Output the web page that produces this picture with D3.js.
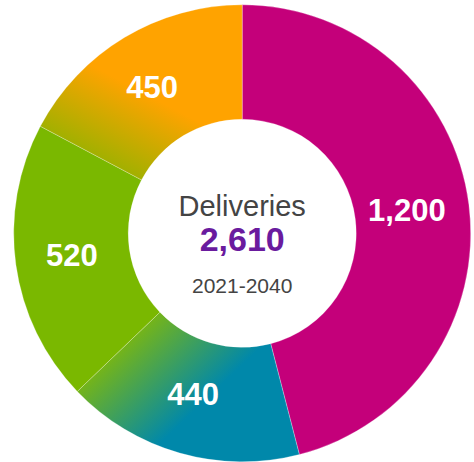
<!DOCTYPE html>
<html>
<head>
<meta charset="utf-8">
<script src="https://cdn.jsdelivr.net/npm/d3@7"></script>
<style>
  body { margin: 0; background: #fff; }
  svg { display: block; font-family: "Liberation Sans", Arial, sans-serif; }
</style>
</head>
<body>
<div id="chart"></div>
<script>
const width = 474;
const height = 462;
const cx = 242.2, cy = 233.3;
const outerR = 228.5, innerR = 114;

const values = [1200, 440, 520, 450];
const colors = ['#c4007a', '#0088aa', '#7ab800', '#ffa300'];
// colour that bleeds in from the neighbouring slice (null = flat fill)
const blendFrom = [null, '#74b41a', null, '#a2b000'];
const blendSide = [0, 1, 0, -1]; // 1 = from end edge, -1 = from start edge
const title = 'Deliveries';
const period = '2021-2040';

const svg = d3.select('#chart')
  .append('svg')
    .attr('width', width)
    .attr('height', height);

const defs = svg.append('defs');
const g = svg.append('g')
    .attr('transform', `translate(${cx},${cy})`);

const pie = d3.pie().sort(null).value(d => d);
const arc = d3.arc().innerRadius(innerR).outerRadius(outerR);
const labelArc = d3.arc().innerRadius(169).outerRadius(169);
const fmt = d3.format(',');

const arcs = pie(values);

arcs.forEach((d, i) => {
  let fill = colors[i];
  if (blendFrom[i]) {
    // gradient perpendicular to the shared edge, starting at the edge
    const a = blendSide[i] > 0 ? d.endAngle : d.startAngle;
    const s = blendSide[i] > 0 ? -1 : 1;
    const len = blendSide[i] > 0 ? 95 : 78;
    const nx = s * Math.cos(a), ny = s * Math.sin(a);
    const grad = defs.append('linearGradient')
        .attr('id', 'grad' + i)
        .attr('gradientUnits', 'userSpaceOnUse')
        .attr('x1', 0).attr('y1', 0)
        .attr('x2', nx * len).attr('y2', ny * len);
    grad.append('stop').attr('offset', '0%').attr('stop-color', blendFrom[i]);
    grad.append('stop').attr('offset', '100%').attr('stop-color', colors[i]);
    fill = `url(#grad${i})`;
  }
  g.append('path')
      .attr('d', arc(d))
      .attr('fill', fill)
      .attr('stroke', 'rgba(255,255,255,0.45)')
      .attr('stroke-width', 0.6);
});

g.selectAll('.label')
  .data(arcs)
  .join('text')
    .attr('class', 'label')
    .attr('transform', d => `translate(${labelArc.centroid(d)})`)
    .attr('text-anchor', 'middle')
    .attr('dx', -3)
    .attr('dy', '0.3em')
    .style('font-size', '31px')
    .style('font-weight', 'bold')
    .style('fill', '#fff')
    .text(d => fmt(d.value));

g.append('text')
    .attr('text-anchor', 'middle')
    .attr('y', -17.5)
    .style('font-size', '29px')
    .style('fill', '#444')
    .text(title);

g.append('text')
    .attr('text-anchor', 'middle')
    .attr('y', 17.5)
    .style('font-size', '34px')
    .style('font-weight', 'bold')
    .style('fill', '#6a1b9e')
    .text(fmt(d3.sum(values)));

g.append('text')
    .attr('text-anchor', 'middle')
    .attr('y', 60)
    .style('font-size', '21px')
    .style('fill', '#444')
    .text(period);
</script>
</body>
</html>
